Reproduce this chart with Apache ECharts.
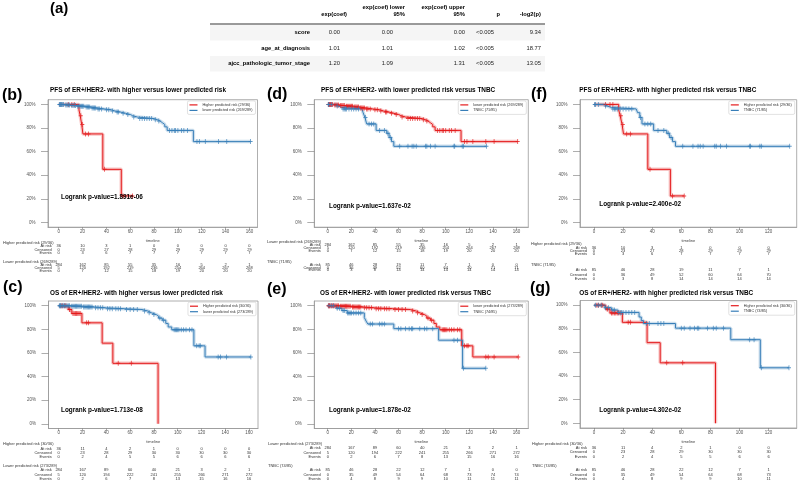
<!DOCTYPE html>
<html>
<head>
<meta charset="utf-8">
<script src="https://cdn.jsdelivr.net/npm/echarts@6/dist/echarts.min.js"></script>
<style>
  html, body { margin: 0; padding: 0; background: #fff; }
  #main { width: 798px; height: 481px; }
</style>
</head>
<body>
<div id="main"></div>
<script>
// (a) Cox model summary
var coxCovariates = ['score', 'age_at_diagnosis', 'ajcc_pathologic_tumor_stage'];
var coxExpCoef = ['0.00', '1.01', '1.20'];
var coxLower95 = ['0.00', '1.01', '1.09'];
var coxUpper95 = ['0.00', '1.02', '1.31'];
var coxP = ['<0.005', '<0.005', '<0.005'];
var coxNegLog2P = ['9.34', '18.77', '13.05'];
var coxHeaders = [['exp(coef)'], ['exp(coef) lower', '95%'], ['exp(coef) upper', '95%'], ['p'], ['-log2(p)']];

// Kaplan-Meier steps: [time, survival from that time on]; censor = censoring times
var pfsHigherSteps = [[0, 1], [17, 0.953], [18, 0.905], [19.3, 0.83], [20.3, 0.75], [37, 0.45], [52.5, 0.225], [62, 0.225]];
var pfsHigherCensor = [8, 11, 13, 18.5, 19.8, 22.5, 25, 38.5, 54, 62];

var pfsLowerSteps = [[0, 1], [5, 0.995], [10, 0.99], [15, 0.985], [22, 0.978], [27, 0.97], [32, 0.962], [38, 0.955],
  [44, 0.945], [47, 0.935], [52, 0.925], [56, 0.915], [60, 0.905], [62, 0.893], [66, 0.88], [80, 0.87], [83, 0.86],
  [85, 0.845], [87, 0.83], [89, 0.81], [91, 0.78], [113, 0.685], [161, 0.685]];
var pfsLowerCensor = [0.5, 1, 1.5, 2, 2.5, 3, 4, 6, 7, 8, 9, 11, 12, 13, 14, 16, 17, 18, 19, 20, 21, 23, 24, 25, 26, 28, 29,
  30, 31, 33, 34, 36, 40, 42, 45, 49, 50, 54, 58, 63, 68, 70, 72, 74, 76, 78, 81, 84, 93, 95, 97, 98, 100, 103, 105, 108,
  116, 118, 123, 134, 141, 161];

var pfsTnbcSteps = [[0, 1], [7, 0.987], [9, 0.974], [12, 0.962], [29, 0.95], [30, 0.93], [31.5, 0.89], [33, 0.835],
  [41, 0.78], [50, 0.755], [52, 0.72], [54, 0.685], [56, 0.645], [134.5, 0.645]];
var pfsTnbcCensor = [0.5, 1, 3, 8, 13, 14, 15, 16, 18, 20, 22, 24, 26, 32, 35, 37, 39, 44, 48, 51, 53, 61, 68, 71.5, 73,
  75, 83, 84, 87, 91, 107, 107.6, 114, 115, 134.5];

var osHigherSteps = [[0, 1], [8, 0.968], [11, 0.935], [19.5, 0.855], [36.5, 0.683], [45.5, 0.512], [83.5, 0]];
var osHigherCensor = [2, 3, 5, 6, 9, 9.5, 12, 13, 14, 15, 16, 17, 18, 23.5, 25, 50, 61];

var osLowerSteps = [[0, 1], [10, 0.995], [20, 0.99], [30, 0.982], [40, 0.975], [55, 0.968], [70, 0.955], [75, 0.94],
  [78, 0.925], [82, 0.912], [84, 0.895], [87, 0.878], [90, 0.85], [92, 0.82], [95, 0.796], [113.6, 0.66], [123, 0.566],
  [161.5, 0.566]];
var osLowerCensor = [0.5, 1, 1.5, 2, 3, 4, 5, 6, 7, 8, 9, 11, 12, 13, 14, 15, 16, 17, 18, 19, 21, 22, 23, 24, 25, 26, 27,
  28, 31, 33, 35, 37, 41, 43, 45, 48, 50, 52, 57, 60, 63, 66, 72, 76, 80, 85, 88, 97, 98, 99, 100, 101, 103, 105, 107,
  110, 112, 116, 118, 119, 134, 136, 141, 161.5];

var osTnbcSteps = [[0, 1], [7.5, 0.979], [12, 0.959], [16.5, 0.939], [31, 0.9], [32.5, 0.87], [34, 0.845], [56, 0.806],
  [94, 0.708], [114.3, 0.47], [134, 0.47]];
var osTnbcCensor = [1, 3, 5, 8, 10, 13, 14, 17, 18, 19, 20, 22, 24, 26, 28, 36, 38, 44, 46, 48, 60, 62, 66, 69, 71, 72,
  78, 82, 84, 89, 107, 110, 115, 134];

// number-at-risk tables
var riskTimes = [0, 20, 40, 60, 80, 100, 120, 140, 160];
var pfsHigherAtRisk = [36, 10, 3, 1, 0, 0, 0, 0, 0];
var pfsHigherCensored = [0, 23, 27, 28, 29, 29, 29, 29, 29];
var pfsHigherEvents = [0, 3, 6, 7, 7, 7, 7, 7, 7];
var pfsLowerAtRisk = [284, 162, 85, 55, 35, 16, 5, 2, 1];
var pfsLowerCensored = [5, 120, 192, 219, 236, 254, 264, 267, 268];
var pfsLowerEvents = [0, 7, 12, 15, 18, 19, 20, 20, 20];
var pfsTnbcAtRisk = [85, 46, 28, 19, 11, 7, 1, 0, 0];
var pfsTnbcCensored = [0, 36, 49, 52, 60, 64, 70, 71, 71];
var pfsTnbcEvents = [0, 3, 8, 14, 14, 14, 14, 14, 14];
var osHigherAtRisk = [36, 11, 4, 2, 1, 0, 0, 0, 0];
var osHigherCensored = [0, 23, 28, 29, 30, 30, 30, 30, 30];
var osHigherEvents = [0, 2, 4, 5, 5, 6, 6, 6, 6];
var osLowerAtRisk = [284, 167, 89, 60, 40, 21, 3, 2, 1];
var osLowerCensored = [5, 120, 194, 222, 241, 255, 266, 271, 272];
var osLowerEvents = [0, 2, 6, 7, 8, 13, 15, 16, 16];
var osTnbcAtRisk = [85, 46, 28, 22, 12, 7, 1, 0, 0];
var osTnbcCensored = [0, 35, 49, 54, 64, 68, 73, 74, 74];
var osTnbcEvents = [0, 4, 8, 9, 9, 10, 11, 11, 11];

var RED = '#e41a1c', BLUE = '#377eb8';
var PLUS = 'path://M4,0H6V4H10V6H6V10H4V6H0V4H4Z';
var HEAD_FONT = '"Liberation Sans", Arial, sans-serif';
var SMALL_FONT = '"Liberation Sans", Arial, sans-serif';

function grp(legend, head, color, steps, censor, atRisk, censored, events) {
  return { legend: legend, head: head, color: color, steps: steps, censor: censor,
           rows: [['At risk', atRisk], ['Censored', censored], ['Events', events]] };
}

var panels = [
  { tag: '(b)', title: 'PFS of ER+/HER2- with higher versus lower predicted risk', logrank: 'Logrank p-value=1.891e-06',
    groups: [grp('Higher predicted risk (29/36)', 'Higher predicted risk (29/36)', RED, pfsHigherSteps, pfsHigherCensor, pfsHigherAtRisk, pfsHigherCensored, pfsHigherEvents),
             grp('lower predicted risk (269/289)', 'Lower predicted risk (269/289)', BLUE, pfsLowerSteps, pfsLowerCensor, pfsLowerAtRisk, pfsLowerCensored, pfsLowerEvents)],
    box: [48, 99.7, 209.5, 127.5], xr: [-9, 166.8], cols: 9,
    titleAt: [50, 90], pAt: [61, 197.7], tagAt: [2, 95.5], headX: 3,
    rowsY: [[243, 246.3, 249.6, 252.9], [262, 265.2, 268.2, 271.2]] },
  { tag: '(c)', title: 'OS of ER+/HER2- with higher versus lower predicted risk', logrank: 'Logrank p-value=1.713e-08',
    groups: [grp('Higher predicted risk (30/36)', 'Higher predicted risk (30/36)', RED, osHigherSteps, osHigherCensor, osHigherAtRisk, osHigherCensored, osHigherEvents),
             grp('lower predicted risk (273/289)', 'Lower predicted risk (273/289)', BLUE, osLowerSteps, osLowerCensor, osLowerAtRisk, osLowerCensored, osLowerEvents)],
    box: [48.5, 301, 209.5, 127.5], xr: [-8.6, 167.5], cols: 9,
    titleAt: [50, 293.3], pAt: [61, 410], tagAt: [3, 288], headX: 3,
    rowsY: [[444.3, 448.5, 452.7, 457], [465.8, 470, 474.4, 478.7]] },
  { tag: '(d)', title: 'PFS of ER+/HER2- with lower predicted risk versus TNBC', logrank: 'Logrank p-value=1.637e-02',
    groups: [grp('lower predicted risk (269/289)', 'Lower predicted risk (269/289)', RED, pfsLowerSteps, pfsLowerCensor, pfsLowerAtRisk, pfsLowerCensored, pfsLowerEvents),
             grp('TNBC (71/85)', 'TNBC (71/85)', BLUE, pfsTnbcSteps, pfsTnbcCensor, pfsTnbcAtRisk, pfsTnbcCensored, pfsTnbcEvents)],
    box: [314.3, 99.7, 214, 127.5], xr: [-11.4, 170], cols: 9,
    titleAt: [321, 90], pAt: [329, 206.7], tagAt: [267, 95], headX: 267,
    rowsY: [[241.5, 244.5, 247.7, 251], [261.7, 264.7, 267.5, 270.2]] },
  { tag: '(e)', title: 'OS of ER+/HER2- with lower predicted risk versus TNBC', logrank: 'Logrank p-value=1.878e-02',
    groups: [grp('lower predicted risk (273/289)', 'Lower predicted risk (273/289)', RED, osLowerSteps, osLowerCensor, osLowerAtRisk, osLowerCensored, osLowerEvents),
             grp('TNBC (74/85)', 'TNBC (74/85)', BLUE, osTnbcSteps, osTnbcCensor, osTnbcAtRisk, osTnbcCensored, osTnbcEvents)],
    box: [314.3, 301, 214, 127.5], xr: [-11.4, 170], cols: 9,
    titleAt: [320, 293.3], pAt: [329, 410], tagAt: [267, 289.5], headX: 268,
    rowsY: [[443.7, 448, 452.5, 456.8], [466, 470.3, 474.7, 478.8]] },
  { tag: '(f)', title: 'PFS of ER+/HER2- with higher predicted risk versus TNBC', logrank: 'Logrank p-value=2.400e-02',
    groups: [grp('Higher predicted risk (29/36)', 'Higher predicted risk (29/36)', RED, pfsHigherSteps, pfsHigherCensor, pfsHigherAtRisk, pfsHigherCensored, pfsHigherEvents),
             grp('TNBC (71/85)', 'TNBC (71/85)', BLUE, pfsTnbcSteps, pfsTnbcCensor, pfsTnbcAtRisk, pfsTnbcCensored, pfsTnbcEvents)],
    box: [580, 99.7, 216.7, 127.5], xr: [-9.6, 139.3], cols: 7,
    titleAt: [579.3, 90], pAt: [599.3, 204.3], tagAt: [531, 95], headX: 531,
    rowsY: [[244, 247.7, 251, 254.3], [264.5, 270, 274.7, 279]] },
  { tag: '(g)', title: 'OS of ER+/HER2- with higher predicted risk versus TNBC', logrank: 'Logrank p-value=4.302e-02',
    groups: [grp('Higher predicted risk (30/36)', 'Higher predicted risk (30/36)', RED, osHigherSteps, osHigherCensor, osHigherAtRisk, osHigherCensored, osHigherEvents),
             grp('TNBC (74/85)', 'TNBC (74/85)', BLUE, osTnbcSteps, osTnbcCensor, osTnbcAtRisk, osTnbcCensored, osTnbcEvents)],
    box: [580, 300.5, 216.7, 127.5], xr: [-9.6, 139.3], cols: 7,
    titleAt: [579.3, 293.3], pAt: [599.3, 410], tagAt: [530, 288.5], headX: 532,
    rowsY: [[443.7, 448, 452.3, 456.7], [466.3, 470.3, 475, 479]] }
];

function survAt(steps, t) {
  var s = steps[0][1];
  for (var k = 0; k < steps.length; k++) {
    if (steps[k][0] <= t) s = steps[k][1];
  }
  return s;
}

var myChart = echarts.init(document.getElementById('main'));

var series = [];
panels.forEach(function (p, i) {
  p.groups.forEach(function (g) {
    series.push({
      type: 'line', name: 'halo' + i + g.color, xAxisIndex: i, yAxisIndex: i, step: 'end',
      data: g.steps, symbol: 'none', silent: true, z: 1,
      lineStyle: { color: g.color, width: 3.5, opacity: 0.25 }
    });
  });
  p.groups.forEach(function (g) {
    series.push({
      type: 'line', name: i + '|' + g.legend, xAxisIndex: i, yAxisIndex: i, step: 'end',
      data: g.steps, symbol: 'none', showSymbol: false, color: g.color, z: 2,
      lineStyle: { color: g.color, width: 1 }
    });
    series.push({
      type: 'scatter', name: 'censor' + i + g.color, xAxisIndex: i, yAxisIndex: i, z: 3,
      data: g.censor.map(function (t) { return [t, survAt(g.steps, t)]; }),
      symbol: PLUS, symbolSize: [4, 5], itemStyle: { color: g.color }, silent: true
    });
  });
});

var option = {
  animation: false,
  backgroundColor: '#fff',
  grid: panels.map(function (p) {
    return { left: p.box[0], top: p.box[1], width: p.box[2], height: p.box[3],
             show: true, borderColor: '#9a9a9a', borderWidth: 0.8, backgroundColor: 'transparent' };
  }),
  xAxis: panels.map(function (p, i) {
    var ticks = riskTimes.slice(0, p.cols);
    return {
      gridIndex: i, type: 'value', min: p.xr[0], max: p.xr[1],
      splitLine: { show: false },
      axisLine: { show: true, onZero: false, lineStyle: { color: '#9a9a9a', width: 0.8 } },
      axisTick: { customValues: ticks, length: 2.5, lineStyle: { color: '#777', width: 0.6 } },
      axisLabel: { customValues: ticks, fontSize: 4.5, color: '#555', margin: 2, fontFamily: SMALL_FONT },
      name: 'timeline', nameLocation: 'middle', nameGap: 11.5,
      nameTextStyle: { fontSize: 4, color: '#444', fontFamily: SMALL_FONT }
    };
  }),
  yAxis: panels.map(function (p, i) {
    var ticks = [0, 0.2, 0.4, 0.6, 0.8, 1];
    return {
      gridIndex: i, type: 'value', min: -0.04, max: 1.04,
      splitLine: { show: false },
      axisLine: { show: true, onZero: false, lineStyle: { color: '#9a9a9a', width: 0.8 } },
      axisTick: { customValues: ticks, length: 7, lineStyle: { color: '#777', width: 0.6 } },
      axisLabel: { customValues: ticks, fontSize: 4.5, color: '#555', margin: 12.5, fontFamily: SMALL_FONT,
                   formatter: function (v) { return Math.round(v * 100) + '%'; } }
    };
  }),
  legend: panels.map(function (p, i) {
    return {
      orient: 'vertical', right: 798 - (p.box[0] + p.box[2]) + 2, top: p.box[1] + 1.2,
      icon: 'rect', itemWidth: 8, itemHeight: 1.2, itemGap: 1.5, padding: [2, 3, 2, 2],
      borderColor: '#ccc', borderWidth: 0.6, borderRadius: 1.5, backgroundColor: '#fff',
      selectedMode: false,
      textStyle: { fontSize: 3.8, color: '#333', fontFamily: SMALL_FONT },
      data: p.groups.map(function (g) { return i + '|' + g.legend; }),
      formatter: function (n) { return n.split('|')[1]; }
    };
  }),
  series: series
};

myChart.setOption(option);

function txt(x, y, s, size, opts) {
  opts = opts || {};
  return { type: 'text', x: x, y: y, silent: true, z: 10,
           style: { text: s, fontSize: size, fontFamily: opts.family || SMALL_FONT, fontWeight: opts.weight || 'normal',
                    fill: opts.fill || '#000', align: opts.align || 'left', verticalAlign: 'middle' } };
}

var graphics = [];

// (a) table
graphics.push(txt(50, 8.5, '(a)', 15, { family: HEAD_FONT, weight: 'bold' }));
[0, 2].forEach(function (r) {
  graphics.push({ type: 'rect', silent: true, shape: { x: 210, y: 25 + 15.5 * r, width: 335, height: 15.5 }, style: { fill: '#f5f5f5' } });
});
graphics.push({ type: 'line', silent: true, shape: { x1: 210, y1: 24, x2: 545, y2: 24 }, style: { stroke: '#000', lineWidth: 0.8 } });
var headRight = [347, 405, 465, 500, 541];
var valRight = [340, 393, 465, 494, 541];
coxHeaders.forEach(function (h, c) {
  if (h.length === 1) {
    graphics.push(txt(headRight[c], 14.5, h[0], 5.8, { weight: 'bold', align: 'right' }));
  } else {
    graphics.push(txt(headRight[c], 7.5, h[0], 5.8, { weight: 'bold', align: 'right' }));
    graphics.push(txt(headRight[c], 14.5, h[1], 5.8, { weight: 'bold', align: 'right' }));
  }
});
var coxCols = [coxExpCoef, coxLower95, coxUpper95, coxP, coxNegLog2P];
coxCovariates.forEach(function (name, r) {
  var y = 32.75 + 15.5 * r;
  graphics.push(txt(310, y, name, 5.8, { weight: 'bold', align: 'right' }));
  coxCols.forEach(function (col, c) {
    graphics.push(txt(valRight[c], y, col[r], 5.8, { align: 'right', fill: '#222' }));
  });
});

// KM panels: tags, titles, log-rank text, number-at-risk tables
panels.forEach(function (p, i) {
  graphics.push(txt(p.tagAt[0], p.tagAt[1], p.tag, 16, { family: HEAD_FONT, weight: 'bold' }));
  graphics.push(txt(p.titleAt[0], p.titleAt[1], p.title, 6.4, { family: HEAD_FONT, weight: 'bold' }));
  graphics.push(txt(p.pAt[0], p.pAt[1], p.logrank, 6.4, { family: HEAD_FONT, weight: 'bold' }));
  var times = riskTimes.slice(0, p.cols);
  var xs = times.map(function (t) { return myChart.convertToPixel({ xAxisIndex: i }, t); });
  p.groups.forEach(function (g, gi) {
    var ys = p.rowsY[gi];
    graphics.push(txt(p.headX, ys[0], g.head, 4, { fill: '#333' }));
    g.rows.forEach(function (row, r) {
      graphics.push(txt(xs[0] - 7, ys[r + 1], row[0], 4, { fill: '#333', align: 'right' }));
      row[1].slice(0, p.cols).forEach(function (v, c) {
        graphics.push(txt(xs[c], ys[r + 1], String(v), 4, { fill: '#333', align: 'center' }));
      });
    });
  });
});

myChart.setOption({ graphic: graphics });
</script>
</body>
</html>
